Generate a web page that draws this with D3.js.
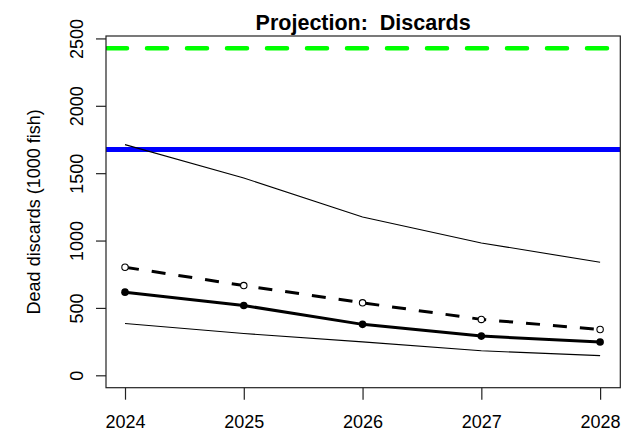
<!DOCTYPE html>
<html>
<head>
<meta charset="utf-8">
<script src="https://cdn.jsdelivr.net/npm/d3@7"></script>
<style>
  html, body { margin: 0; padding: 0; background: #fff; }
  svg { display: block; font-family: "Liberation Sans", Arial, sans-serif; }
</style>
</head>
<body>
<svg id="chart" width="628" height="434"></svg>
<script>
// Projected dead discards (1000 fish) by year
const years = [2024, 2025, 2026, 2027, 2028];
const upperBound = [1712, 1464, 1175, 982, 839];
const meanDiscards = [802, 666, 538, 415, 340];
const medianDiscards = [617, 518, 378, 291, 247];
const lowerBound = [385, 310, 248, 182, 146];
const refLevelHigh = 2427;   // green dashed reference
const refLevelLow = 1676;    // blue reference
const yTicks = [0, 500, 1000, 1500, 2000, 2500];

const svg = d3.select("#chart");
const box = { left: 106, right: 620.3, top: 36, bottom: 387.7 };

const x = d3.scaleLinear().domain([2023.84, 2028.17]).range([box.left, box.right]);
const y = d3.scaleLinear().domain([-92, 2518]).range([box.bottom, box.top]);

svg.append("clipPath").attr("id", "plotClip")
  .append("rect")
  .attr("x", box.left).attr("y", box.top)
  .attr("width", box.right - box.left).attr("height", box.bottom - box.top);

const plot = svg.append("g").attr("clip-path", "url(#plotClip)");

// Reference levels
plot.append("line")
  .attr("x1", x.range()[0] + 1).attr("x2", x.range()[1])
  .attr("y1", y(refLevelHigh)).attr("y2", y(refLevelHigh))
  .attr("stroke", "#00ff00").attr("stroke-width", 4.5)
  .attr("stroke-dasharray", "20 20").attr("stroke-linecap", "round");

plot.append("line")
  .attr("x1", x.range()[0]).attr("x2", x.range()[1])
  .attr("y1", y(refLevelLow)).attr("y2", y(refLevelLow))
  .attr("stroke", "#0000ff").attr("stroke-width", 5);

const line = d3.line().x((d, i) => x(years[i])).y(d => y(d));

// Interval bounds
[upperBound, lowerBound].forEach(series => {
  plot.append("path").datum(series)
    .attr("d", line).attr("fill", "none")
    .attr("stroke", "#000").attr("stroke-width", 1.1);
});

// Mean (dashed, open circles)
plot.append("path").datum(meanDiscards)
  .attr("d", line).attr("fill", "none")
  .attr("stroke", "#000").attr("stroke-width", 3)
  .attr("stroke-dasharray", "14 13");
plot.selectAll("circle.mean").data(meanDiscards).join("circle")
  .attr("class", "mean")
  .attr("cx", (d, i) => x(years[i])).attr("cy", d => y(d))
  .attr("r", 3.2).attr("fill", "#fff")
  .attr("stroke", "#000").attr("stroke-width", 1.1);

// Median (solid, filled circles)
plot.append("path").datum(medianDiscards)
  .attr("d", line).attr("fill", "none")
  .attr("stroke", "#000").attr("stroke-width", 3);
plot.selectAll("circle.median").data(medianDiscards).join("circle")
  .attr("class", "median")
  .attr("cx", (d, i) => x(years[i])).attr("cy", d => y(d))
  .attr("r", 3.8).attr("fill", "#000");

// Frame
svg.append("rect")
  .attr("x", box.left).attr("y", box.top)
  .attr("width", box.right - box.left).attr("height", box.bottom - box.top)
  .attr("fill", "none").attr("stroke", "#222").attr("stroke-width", 1.2);

// Axes
const xAxis = svg.append("g")
  .attr("transform", `translate(0,${box.bottom})`)
  .call(d3.axisBottom(x).tickValues(years).tickFormat(d3.format("d")).tickSize(12).tickSizeOuter(0));
xAxis.select(".domain").remove();
xAxis.selectAll(".tick line").attr("stroke", "#222").attr("stroke-width", 1.2);
xAxis.selectAll(".tick text")
  .attr("y", 40.5).attr("dy", 0)
  .attr("font-size", 18).attr("fill", "#000")
  .style("font-family", "'Liberation Sans', Arial, sans-serif");

const yAxis = svg.append("g")
  .attr("transform", `translate(${box.left},0)`)
  .call(d3.axisLeft(y).tickValues(yTicks).tickFormat(d3.format("d")).tickSize(10).tickSizeOuter(0));
yAxis.select(".domain").remove();
yAxis.selectAll(".tick line").attr("stroke", "#222").attr("stroke-width", 1.2);
yAxis.selectAll(".tick text")
  .attr("x", 0).attr("y", -23).attr("dy", 0)
  .attr("transform", "rotate(-90)")
  .attr("text-anchor", "middle")
  .attr("font-size", 18).attr("fill", "#000")
  .style("font-family", "'Liberation Sans', Arial, sans-serif");

// Titles
svg.append("text")
  .attr("x", (box.left + box.right) / 2).attr("y", 29.5)
  .attr("text-anchor", "middle")
  .attr("font-size", 21.5).attr("font-weight", "bold").attr("fill", "#000")
  .text("Projection:  Discards")
  .style("white-space", "pre");

svg.append("text")
  .attr("transform", `translate(39.5,${(box.top + box.bottom) / 2}) rotate(-90)`)
  .attr("text-anchor", "middle")
  .attr("font-size", 18).attr("fill", "#000")
  .text("Dead discards (1000 fish)");
</script>
</body>
</html>
